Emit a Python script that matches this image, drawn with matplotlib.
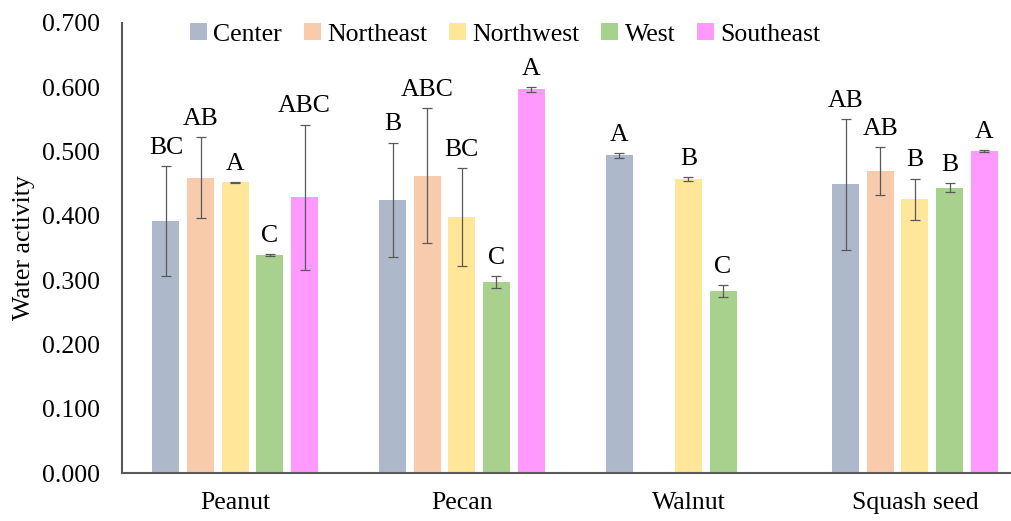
import matplotlib.pyplot as plt
import numpy as np

plt.rcParams['font.family'] = ['Liberation Serif', 'DejaVu Serif']

nuts = ['Peanut', 'Pecan', 'Walnut', 'Squash seed']
regions = ['Center', 'Northeast', 'Northwest', 'West', 'Southeast']
colors = ['#ADB9CA', '#F8CBAD', '#FFE699', '#A9D18E', '#FF99FF']

# mean water activity per region, one list per region (nan = not sampled)
center = [0.392, 0.425, 0.494, 0.449]
northeast = [0.459, 0.462, np.nan, 0.470]
northwest = [0.452, 0.398, 0.457, 0.426]
west = [0.339, 0.297, 0.283, 0.444]
southeast = [0.429, 0.597, np.nan, 0.501]

center_sd = [0.086, 0.089, 0.004, 0.102]
northeast_sd = [0.063, 0.105, np.nan, 0.037]
northwest_sd = [0.001, 0.076, 0.003, 0.032]
west_sd = [0.001, 0.010, 0.009, 0.007]
southeast_sd = [0.113, 0.004, np.nan, 0.002]

center_grp = ['BC', 'B', 'A', 'AB']
northeast_grp = ['AB', 'ABC', '', 'AB']
northwest_grp = ['A', 'BC', 'B', 'B']
west_grp = ['C', 'C', 'C', 'B']
southeast_grp = ['ABC', 'A', '', 'A']

means = [center, northeast, northwest, west, southeast]
sds = [center_sd, northeast_sd, northwest_sd, west_sd, southeast_sd]
groups = [center_grp, northeast_grp, northwest_grp, west_grp, southeast_grp]

fs = 18.5

fig = plt.figure(figsize=(10.11, 5.21), dpi=100)
ax = fig.add_axes([0.1207, 0.0921, 0.8963, 0.8638])

x = np.arange(len(nuts))
step = 0.153
width = 0.119
for i, reg in enumerate(regions):
    pos = x + (i - 2) * step
    m = np.array(means[i], dtype=float)
    s = np.array(sds[i], dtype=float)
    ax.bar(pos, m, width, color=colors[i], label=reg)
    ax.errorbar(pos, m, yerr=s, fmt='none', ecolor='#595959', elinewidth=0.9,
                capsize=3.5, capthick=0.9)
    for p, v, e, g in zip(pos, m, s, groups[i]):
        if np.isnan(v):
            continue
        ax.text(p, v + e + 0.011, g, ha='center', va='bottom', fontsize=fs)

ax.set_xlim(-0.5, 3.5)
ax.set_ylim(0, 0.7)
ax.set_yticks(np.arange(0, 0.71, 0.1))
ax.set_yticklabels(['%.3f' % t for t in np.arange(0, 0.71, 0.1)], fontsize=fs)
ax.set_xticks(x)
ax.set_xticklabels(nuts, fontsize=fs)
ax.tick_params(length=0)
ax.tick_params(axis='x', pad=14)
ax.tick_params(axis='y', pad=16)
ax.set_ylabel('Water activity', fontsize=fs, labelpad=5)

for side in ['top', 'right']:
    ax.spines[side].set_visible(False)
for side in ['left', 'bottom']:
    ax.spines[side].set_color('#595959')
    ax.spines[side].set_linewidth(1.5)

ax.legend(loc='center', bbox_to_anchor=(0.423, 0.975), ncol=5, frameon=False,
          fontsize=fs, handlelength=0.65, handleheight=0.65, handletextpad=0.25,
          columnspacing=0.85)

fig.savefig('out.png', dpi=100)
